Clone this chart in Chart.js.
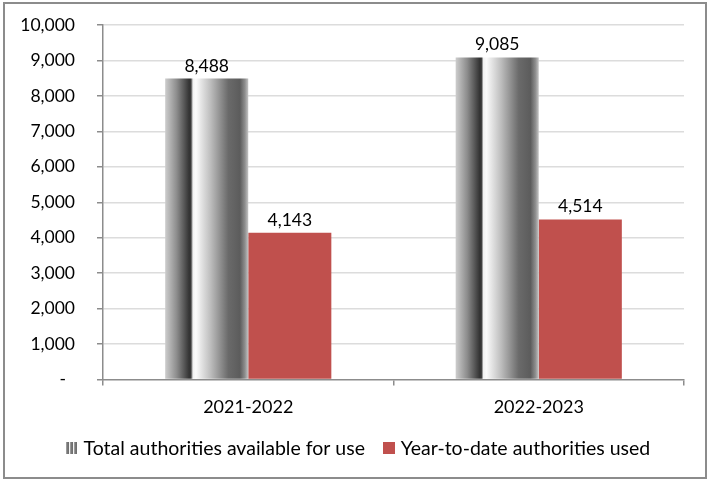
<!DOCTYPE html>
<html>
<head>
<meta charset="utf-8">
<script src="https://cdn.jsdelivr.net/npm/chart.js@4.4.1/dist/chart.umd.min.js"></script>
<style>
  html, body { margin: 0; padding: 0; background: #fff; }
  #wrap { position: relative; width: 713px; height: 482px; }
  #frame { position: absolute; left: 3px; top: 2px; width: 704px; height: 477px;
           box-sizing: border-box; border: 2px solid #8c8c8c; pointer-events: none; }
</style>
</head>
<body>
<div id="wrap">
  <canvas id="chart"></canvas>
  <div id="frame"></div>
</div>
<script>
  const categories = ["2021-2022", "2022-2023"];
  const totalAvailable = [8488, 9085];
  const usedToDate = [4143, 4514];
  const seriesNames = ["Total authorities available for use", "Year-to-date authorities used"];
  const yMax = 10000, yStep = 1000;

  const RED = "#c0504d";
  const FONT = { family: "Lato", size: 17.5 };
  const LEGEND_FONT = { family: "Lato", size: 19.5 };
  const CAT_PCT = 0.572;

  // shaded "cylinder" look of the grey bars, stops across bar width
  const greyStops = [
    [0.00, "#cdcdcd"], [0.14, "#8c8c8c"], [0.29, "#333333"], [0.31, "#3a3a3a"],
    [0.335, "#f2f2f2"], [0.37, "#fbfbfb"], [0.55, "#bcbcbc"], [0.76, "#6a6a6a"],
    [0.90, "#5c5c5c"], [0.96, "#8e8e8e"], [1.00, "#c4c4c4"],
  ];

  function greyFill(c) {
    const chart = c.chart;
    const xs = chart.scales.x;
    if (!chart.chartArea || !xs || c.dataIndex === undefined) return "#888";
    const catW = xs.width / categories.length;
    const mid = xs.getPixelForValue(c.dataIndex);
    const left = mid - catW * CAT_PCT / 2;
    const g = chart.ctx.createLinearGradient(left, 0, mid, 0);
    greyStops.forEach(([p, col]) => g.addColorStop(p, col));
    return g;
  }

  function marker(draw) {
    const cv = document.createElement("canvas");
    cv.width = 12; cv.height = 12;
    draw(cv.getContext("2d"));
    return cv;
  }
  const greyMarker = marker((g) => {
    for (let i = 0; i < 3; i++) {
      const gr = g.createLinearGradient(i * 4, 0, i * 4 + 3, 0);
      gr.addColorStop(0, "#b0b0b0"); gr.addColorStop(1, "#4a4a4a");
      g.fillStyle = gr;
      g.fillRect(i * 4, 0, 3, 12);
    }
  });
  const redMarker = marker((g) => { g.fillStyle = RED; g.fillRect(0, 0, 12, 12); });

  const valueLabels = {
    id: "valueLabels",
    afterDatasetsDraw(chart) {
      const ctx = chart.ctx;
      ctx.save();
      ctx.font = FONT.size + "px " + FONT.family;
      ctx.fillStyle = "#000";
      ctx.textAlign = "center";
      ctx.textBaseline = "alphabetic";
      chart.data.datasets.forEach((ds, di) => {
        chart.getDatasetMeta(di).data.forEach((el, i) => {
          ctx.fillText(ds.data[i].toLocaleString("en-US"), el.x, el.y - 7);
        });
      });
      ctx.restore();
    },
  };

  // legend is centred on the whole frame, not just the padded layout box
  const legendShift = {
    id: "legendShift",
    afterLayout(chart) { if (chart.legend) chart.legend.left = 36; },
  };

  new Chart(document.getElementById("chart"), {
    type: "bar",
    data: {
      labels: categories,
      datasets: [
        { label: seriesNames[0], data: totalAvailable, backgroundColor: greyFill,
          categoryPercentage: CAT_PCT, barPercentage: 1 },
        { label: seriesNames[1], data: usedToDate, backgroundColor: RED,
          categoryPercentage: CAT_PCT, barPercentage: 1 },
      ],
    },
    options: {
      responsive: true, maintainAspectRatio: false, animation: false,
      layout: { padding: { top: 25, right: 29, bottom: 14, left: 0 } },
      plugins: {
        tooltip: { enabled: false },
        legend: {
          position: "bottom",
          labels: {
            font: LEGEND_FONT, color: "#000", usePointStyle: true, pointStyleWidth: 4,
            boxHeight: 12, padding: 22,
            generateLabels: (chart) => chart.data.datasets.map((ds, i) => ({
              text: ds.label, datasetIndex: i, pointStyle: i === 0 ? greyMarker : redMarker,
              fillStyle: i === 0 ? "#888" : RED, strokeStyle: "transparent", lineWidth: 0,
            })),
          },
        },
      },
      scales: {
        x: {
          ticks: { font: { family: "Lato", size: 18 }, color: "#000", padding: 11 },
          grid: { drawOnChartArea: false, drawTicks: true, tickLength: 6, color: "#8c8c8c", lineWidth: 1.5 },
          border: { color: "#8c8c8c", width: 1.5 },
          afterFit: (s) => { s.height = 37; },
        },
        y: {
          min: 0, max: yMax,
          ticks: {
            stepSize: yStep, font: FONT, color: "#000", padding: 22,
            callback: (v) => v === 0 ? "-  " : v.toLocaleString("en-US"),
          },
          grid: {
            color: (c) => (c.tick && c.tick.value === 0) ? "rgba(0,0,0,0)" : "#dcdcdc",
            lineWidth: 1.5, tickColor: "#8c8c8c", tickLength: 6,
          },
          border: { color: "#8c8c8c", width: 1.5 },
          afterFit: (s) => { s.width = 103; s.paddingTop = 10; s.paddingBottom = 10; },
        },
      },
    },
    plugins: [valueLabels, legendShift],
  });
</script>
</body>
</html>
